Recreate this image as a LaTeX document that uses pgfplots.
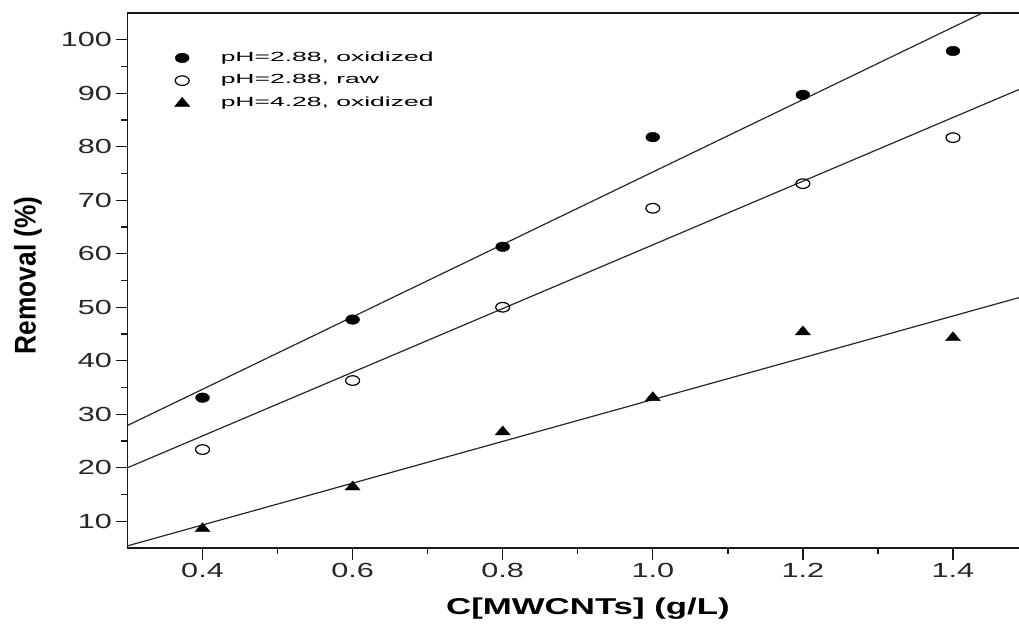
\documentclass[border=0pt]{standalone}
\usepackage{fontspec}
\setmainfont{Liberation Sans}
\newfontfamily\tickfont[FakeStretch=1.5]{Liberation Sans}
\newfontfamily\legfont[FakeStretch=2.0]{Liberation Sans}
\newfontfamily\xlabfont[FakeStretch=1.52]{Liberation Sans}
\newfontfamily\ylabfont[FakeStretch=0.88]{Liberation Sans}
\usepackage{pgfplots}
\pgfplotsset{compat=1.18}

\begin{document}
\begin{tikzpicture}
\begin{axis}[
  scale only axis,
  width=891.5bp, height=535bp,
  xmin=0.3, xmax=1.488,
  ymin=5, ymax=105,
  axis x line*=box, axis y line*=left,
  axis line style={line width=1.6bp, black!90},
  xtick={0.4,0.6,0.8,1.0,1.2,1.4},
  ytick={10,20,30,40,50,60,70,80,90,100},
  minor x tick num=1, minor y tick num=1,
  tick align=outside,
  xtick pos=left, ytick pos=left,
  major tick length=12bp, minor tick length=6bp,
  tick style={line width=1.4bp, black!90},
  ticklabel style={font=\tickfont\fontsize{20.5}{20.5}\selectfont, text=black!85},
  /pgf/number format/assume math mode=true,
  xticklabel style={/pgf/number format/.cd, fixed, fixed zerofill, precision=1},
  xlabel={C[MWCNTs] (g/L)},
  ylabel={Removal (\%)},
  every axis x label/.style={at={(rel axis cs:0.5165,0)}, yshift=-66bp, anchor=base,
     font=\xlabfont\bfseries\fontsize{23}{23}\selectfont},
  every axis y label/.style={at={(rel axis cs:0,0.51)}, xshift=-99.5bp, rotate=90, anchor=center,
     font=\ylabfont\bfseries\fontsize{30}{30}\selectfont},
  legend cell align=left,
  legend style={at={(rel axis cs:0.0527,0.929)}, anchor=north west, draw=none, fill=none,
     inner sep=0pt, row sep=9.2bp, column sep=30bp,
     font=\legfont\fontsize{13.3}{13.3}\selectfont,
     nodes={inner sep=1bp, text height=9bp, text depth=2.5bp}},
]
\addplot[only marks, mark=*, mark size=4.8bp, mark options={xscale=1.45, fill=black, draw=black}]
  coordinates {(0.4,33.1) (0.6,47.7) (0.8,61.3) (1.0,81.8) (1.2,89.7) (1.4,97.9)};
\addlegendentry{pH=2.88, oxidized}
\addplot[only marks, mark=o, mark size=4.8bp, mark options={xscale=1.45, line width=1.2bp, draw=black}]
  coordinates {(0.4,23.4) (0.6,36.3) (0.8,50.0) (1.0,68.5) (1.2,73.1) (1.4,81.7)};
\addlegendentry{pH=2.88, raw}
\addplot[only marks, mark=triangle*, mark size=6bp, mark options={xscale=1.45, fill=black, draw=black}]
  coordinates {(0.4,8.6) (0.6,16.4) (0.8,26.7) (1.0,33.1) (1.2,45.4) (1.4,44.3)};
\addlegendentry{pH=4.28, oxidized}

\addplot[forget plot, line width=1.2bp, black!85] coordinates {(0.3,27.9) (1.488,108.3)};
\addplot[forget plot, line width=1.2bp, black!85] coordinates {(0.3,20.0) (1.488,90.7)};
\addplot[forget plot, line width=1.2bp, black!85] coordinates {(0.3,5.4) (1.488,51.8)};

\coordinate (axbl) at (rel axis cs:0,0);
\coordinate (axtr) at (rel axis cs:1,1);
\end{axis}
\pgfresetboundingbox
\path ([xshift=-127.5bp,yshift=-76bp]axbl) rectangle ([yshift=13bp]axtr);
\end{tikzpicture}
\end{document}
